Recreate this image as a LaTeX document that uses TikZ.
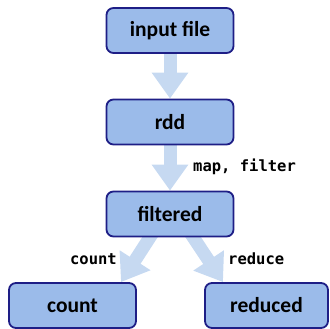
\documentclass[tikz,border=0pt]{standalone}
\usepackage{fontspec}
\setmainfont{Carlito}
\setmonofont{DejaVu Sans Mono}
\usetikzlibrary{arrows.meta,backgrounds}
\definecolor{boxfill}{HTML}{9BBBEA}
\definecolor{boxline}{HTML}{1E1E86}
\definecolor{flow}{HTML}{C6D9F1}

\begin{document}
\begin{tikzpicture}[x=1pt,y=1pt,
    stage/.style={draw=boxline, line width=1.8pt, fill=boxfill, rounded corners=7pt,
      minimum width=127pt, minimum height=45pt, inner sep=0pt,
      font=\fontsize{21.5}{24}\selectfont\bfseries},
    fat/.style={draw=flow, line width=13pt, -{Triangle[length=26pt,width=35pt]}},
    op/.style={font=\ttfamily\bfseries\fontsize{15.5}{18}\selectfont, inner sep=0pt}]
  \useasboundingbox (0,0) rectangle (330,329);
  % the stages
  \node[stage] (infile) at (170,298.5) {input file};
  \node[stage] (rdd) at (170,207) {rdd};
  \node[stage] (filt) at (170,115) {filtered};
  \node[stage] (cnt) at (72.5,23.5) {count};
  \node[stage, minimum width=123pt] (red) at (266.5,23.5) {reduced};
  % the operations
  \begin{scope}[on background layer]
    \draw[fat] (infile.south) -- (rdd.north);
    \draw[fat] (rdd.south) -- (filt.north);
    \draw[fat] ([xshift=-15pt,yshift=8pt]filt.south) -- ([xshift=48.5pt]cnt.north);
    \draw[fat] ([xshift=18pt,yshift=8pt]filt.south) -- ([xshift=-43.5pt]red.north);
  \end{scope}
  \node[op, anchor=west] (mf) at (193,162) {map, filter};
  \node[op, anchor=east] (lc) at (117,70) {count};
  \node[op, anchor=west] (lr) at (228,70) {reduce};
\end{tikzpicture}
\end{document}
